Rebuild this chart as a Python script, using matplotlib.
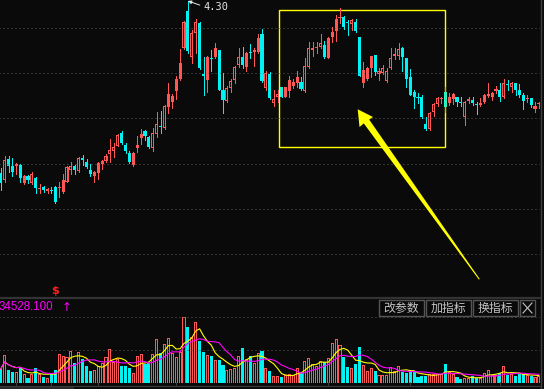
import numpy as np
import pandas as pd
import matplotlib
matplotlib.use('Agg')
import matplotlib.pyplot as plt
from matplotlib.patches import Rectangle, Polygon

# daily candles (price)
open_ = [2.58, 2.51, 2.72, 2.65, 2.65, 2.66, 2.48, 2.55, 2.48, 2.53,
         2.42, 2.44, 2.40, 2.41, 2.44, 2.43, 2.39, 2.49, 2.61, 2.65,
         2.60, 2.73, 2.69, 2.61, 2.55, 2.58, 2.67, 2.70, 2.77, 2.80,
         2.85, 2.98, 2.86, 2.78, 2.66, 2.83, 2.93, 3.00, 2.94, 2.83,
         2.97, 3.05, 3.03, 3.24, 3.29, 3.40, 3.52, 3.83, 4.20, 3.74,
         3.98, 4.08, 3.57, 3.51, 3.73, 3.74, 3.81, 3.41, 3.30, 3.43,
         3.51, 3.66, 3.74, 3.64, 3.79, 3.79, 3.79, 3.97, 3.43, 3.57,
         3.28, 3.34, 3.44, 3.34, 3.40, 3.45, 3.48, 3.49, 3.40, 3.64,
         3.81, 3.83, 3.84, 3.86, 3.73, 3.94, 4.00, 4.13, 4.14, 4.09,
         4.07, 4.09, 3.94, 3.48, 3.52, 3.63, 3.76, 3.57, 3.58, 3.50,
         3.63, 3.75, 3.75, 3.83, 3.73, 3.54, 3.39, 3.34, 3.34, 3.07,
         3.02, 3.19, 3.27, 3.32, 3.39, 3.28, 3.32, 3.34, 3.29, 3.14,
         3.30, 3.31, 3.27, 3.26, 3.29, 3.35, 3.34, 3.40, 3.41, 3.34,
         3.47, 3.44, 3.48, 3.41, 3.36, 3.32, 3.33, 3.22, 3.27]
high = [2.63, 2.75, 2.75, 2.73, 2.68, 2.67, 2.56, 2.56, 2.59, 2.54,
        2.47, 2.45, 2.43, 2.44, 2.45, 2.49, 2.57, 2.65, 2.69, 2.66,
        2.74, 2.76, 2.72, 2.67, 2.60, 2.69, 2.71, 2.77, 2.92, 2.88,
        2.97, 3.00, 2.88, 2.80, 2.79, 2.95, 3.02, 3.01, 2.95, 3.03,
        3.19, 3.20, 3.26, 3.48, 3.37, 3.55, 3.82, 4.10, 4.30, 4.01,
        4.12, 4.09, 3.74, 3.75, 3.81, 3.88, 3.81, 3.58, 3.45, 3.52,
        3.65, 3.83, 3.84, 3.79, 3.87, 3.83, 3.97, 4.02, 3.60, 3.59,
        3.41, 3.41, 3.44, 3.44, 3.55, 3.52, 3.60, 3.54, 3.73, 3.89,
        3.89, 3.89, 3.97, 3.90, 3.94, 4.04, 4.16, 4.23, 4.15, 4.11,
        4.12, 4.12, 3.94, 3.69, 3.64, 3.75, 3.76, 3.63, 3.66, 3.63,
        3.83, 3.83, 3.88, 3.84, 3.73, 3.62, 3.41, 3.38, 3.36, 3.14,
        3.19, 3.28, 3.34, 3.34, 3.44, 3.38, 3.38, 3.34, 3.34, 3.30,
        3.34, 3.34, 3.29, 3.33, 3.37, 3.48, 3.39, 3.45, 3.48, 3.52,
        3.51, 3.49, 3.48, 3.47, 3.38, 3.36, 3.33, 3.29, 3.29]
low = [2.41, 2.49, 2.59, 2.55, 2.57, 2.49, 2.47, 2.48, 2.47, 2.38,
       2.38, 2.39, 2.38, 2.38, 2.28, 2.34, 2.38, 2.49, 2.57, 2.57,
       2.59, 2.66, 2.63, 2.55, 2.49, 2.52, 2.62, 2.69, 2.69, 2.74,
       2.85, 2.87, 2.78, 2.68, 2.65, 2.79, 2.87, 2.91, 2.83, 2.80,
       2.94, 2.98, 3.02, 3.18, 3.23, 3.32, 3.51, 3.82, 3.78, 3.68,
       3.78, 3.62, 3.36, 3.39, 3.60, 3.73, 3.41, 3.18, 3.29, 3.39,
       3.48, 3.64, 3.63, 3.60, 3.73, 3.65, 3.78, 3.49, 3.41, 3.32,
       3.25, 3.29, 3.34, 3.34, 3.34, 3.43, 3.44, 3.41, 3.39, 3.63,
       3.75, 3.78, 3.83, 3.73, 3.73, 3.89, 3.90, 4.08, 4.02, 3.96,
       4.01, 3.99, 3.55, 3.44, 3.51, 3.54, 3.56, 3.51, 3.57, 3.49,
       3.62, 3.72, 3.72, 3.60, 3.44, 3.36, 3.23, 3.28, 3.13, 3.01,
       3.01, 3.15, 3.25, 3.28, 3.19, 3.26, 3.27, 3.25, 3.25, 3.06,
       3.28, 3.26, 3.17, 3.25, 3.28, 3.34, 3.31, 3.38, 3.30, 3.33,
       3.41, 3.39, 3.36, 3.34, 3.22, 3.29, 3.24, 3.19, 3.23]
close = [2.48, 2.71, 2.65, 2.59, 2.67, 2.53, 2.55, 2.51, 2.57, 2.43,
         2.43, 2.41, 2.42, 2.40, 2.29, 2.44, 2.51, 2.64, 2.65, 2.61,
         2.73, 2.71, 2.64, 2.57, 2.59, 2.68, 2.70, 2.75, 2.81, 2.84,
         2.96, 2.88, 2.80, 2.69, 2.78, 2.86, 2.97, 2.95, 2.84, 2.98,
         3.07, 3.04, 3.25, 3.37, 3.35, 3.52, 3.68, 4.09, 3.80, 3.98,
         4.09, 3.63, 3.55, 3.74, 3.72, 3.83, 3.41, 3.31, 3.43, 3.50,
         3.64, 3.74, 3.66, 3.78, 3.78, 3.81, 3.93, 3.50, 3.58, 3.33,
         3.32, 3.37, 3.34, 3.44, 3.51, 3.49, 3.54, 3.42, 3.65, 3.83,
         3.83, 3.84, 3.88, 3.74, 3.93, 3.99, 4.12, 4.14, 4.04, 4.08,
         4.11, 4.00, 3.55, 3.61, 3.63, 3.75, 3.59, 3.60, 3.63, 3.60,
         3.73, 3.77, 3.82, 3.74, 3.52, 3.36, 3.34, 3.33, 3.14, 3.02,
         3.18, 3.27, 3.33, 3.33, 3.24, 3.34, 3.37, 3.29, 3.28, 3.29,
         3.32, 3.28, 3.26, 3.28, 3.36, 3.37, 3.38, 3.42, 3.34, 3.48,
         3.46, 3.48, 3.41, 3.36, 3.30, 3.33, 3.26, 3.25, 3.28]
# volume (thousand lots)
volume = [70, 140, 65, 55, 55, 80, 45, 25, 45, 75,
          45, 30, 25, 50, 65, 145, 135, 130, 160, 100,
          155, 120, 85, 60, 65, 85, 100, 130, 170, 105,
          120, 85, 85, 75, 50, 135, 145, 95, 100, 145,
          220, 150, 195, 225, 150, 130, 155, 330, 280, 230,
          305, 210, 155, 140, 135, 115, 115, 90, 65, 70,
          75, 135, 175, 120, 135, 100, 150, 160, 75, 60,
          35, 35, 30, 40, 45, 40, 75, 50, 110, 125,
          95, 85, 110, 105, 125, 200, 220, 190, 130, 80,
          75, 95, 180, 90, 60, 75, 60, 40, 40, 40,
          80, 60, 85, 55, 50, 60, 55, 30, 35, 35,
          45, 45, 45, 45, 95, 55, 45, 30, 20, 25,
          25, 35, 25, 25, 50, 65, 40, 40, 50, 85,
          40, 45, 35, 45, 45, 40, 35, 30, 35]

price_grid = [4.03, 3.58, 3.13, 2.67, 2.22, 1.77]
vol_grid = [165, 330]
month_ticks = [4, 13, 25, 45, 84, 105, 128]
vol_label = '34528.100'
buttons = ['改参数', '加指标', '换指标']
box_range = (71.4, 114.0, 2.84, 4.21)   # highlighted candles / price span

BG = '#0a0a0a'
UP = '#ff5656'
DOWN = '#00f2f2'
GRID = '#5c5c5c'
LINE = '#3a3a3a'
PX = 0.72          # one pixel in points
BODY_W = 0.78
HOLE_W = 0.26

W, H = 544, 389
fig = plt.figure(figsize=(W / 100, H / 100), dpi=100, facecolor=BG)
ax = fig.add_axes([0, 91 / H, 540 / W, 298 / H])
axv = fig.add_axes([0, 3 / H, 540 / W, 88 / H])

o, h, l, c = (np.array(a) for a in (open_, high, low, close))
x = np.arange(len(c))
up = c >= o
lo = np.minimum(o, c)
hi = np.maximum(o, c)
bh = np.maximum(hi - lo, 0.008)

for a in (ax, axv):
    a.set_facecolor(BG)
    a.set_xlim(-0.18, 138.28)
    for s in a.spines.values():
        s.set_visible(False)
    a.set_yticks([])

# price panel (1 px = 0.01)
ax.set_xticks([])
ax.set_ylim(1.33, 4.31)
ax.hlines(price_grid, -1, 140, colors=GRID, linestyles=(0, (1, 3)), lw=PX)
ax.vlines(x[up], l[up], h[up], color=UP, lw=PX, antialiased=False)
ax.vlines(x[~up], l[~up], h[~up], color=DOWN, lw=PX, antialiased=False)
ax.bar(x[up], bh[up], bottom=lo[up], width=BODY_W, color=UP, lw=0,
       antialiased=False)
hole = up & ((hi - lo) > 0.025)
ax.bar(x[hole], (hi - lo)[hole] - 0.02, bottom=lo[hole] + 0.01, width=HOLE_W,
       color=BG, lw=0, antialiased=False)
ax.bar(x[~up], bh[~up], bottom=lo[~up], width=BODY_W, color=DOWN, lw=0,
       antialiased=False)

peak = int(np.argmax(h))
ax.annotate(f'{h[peak]:.2f}', xy=(peak, h[peak]), xytext=(peak + 4.1, 4.245),
            color='#e6e6e6', fontsize=7.5, family='DejaVu Sans Mono',
            ha='left', va='center',
            arrowprops=dict(arrowstyle='-|>', color='#e6e6e6', lw=0.7,
                            mutation_scale=5, shrinkA=1, shrinkB=0,
                            relpos=(0, 0.5)))
ax.text(13.9, 1.40, '$', color='#ff1e1e', fontsize=8, fontweight='bold',
        ha='center', va='center')

x0, x1, y0, y1 = box_range
ax.add_patch(Rectangle((x0, y0), x1 - x0, y1 - y0, fill=False,
                       ec='#ffff00', lw=1))

# volume panel (1 px = 5)
axv.set_ylim(-15, 425)
axv.hlines(vol_grid, -1, 140, colors=GRID, linestyles=(0, (1, 3)), lw=PX)
v = np.array(volume)
axv.bar(x[up], v[up], width=BODY_W, color=UP, lw=0, antialiased=False)
vhole = up & (v > 10)
axv.bar(x[vhole], v[vhole] - 5, width=HOLE_W, color=BG, lw=0,
        antialiased=False)
axv.bar(x[~up], v[~up], width=BODY_W, color=DOWN, lw=0, antialiased=False)
vs = pd.Series(v)
axv.plot(x, vs.rolling(5, min_periods=1).mean(), color='#ffff00', lw=0.8)
axv.plot(x, vs.rolling(10, min_periods=1).mean(), color='#ff00ff', lw=0.8)
axv.spines['bottom'].set_visible(True)
axv.spines['bottom'].set_color(LINE)
axv.set_xticks(month_ticks)
axv.set_xticklabels([])
axv.tick_params(axis='x', direction='in', length=3, color=LINE)

# screen chrome drawn in pixel space
ov = fig.add_axes([0, 0, 1, 1])
ov.set_xlim(0, W)
ov.set_ylim(H, 0)
ov.axis('off')
ov.patch.set_alpha(0)

ov.plot([0, 540], [298, 298], color='#333333', lw=1.6)
ov.plot([540.5, 540.5], [0, H], color='#404040', lw=1)
ov.add_patch(Rectangle((0, 386.5), 74, 3, color='#2a2a2a', lw=0))

arrow = [(357.7, 109.3), (373, 117), (369.2, 119.6), (479.7, 279.0),
         (478.9, 279.6), (363.8, 123.4), (359.5, 127)]
ov.add_patch(Polygon(arrow, closed=True, color='#ffff00', lw=0))

ov.text(-1, 307.5, vol_label, color='#ff00ff', fontsize=8.3,
        family='Liberation Sans', ha='left', va='center')
ov.text(66.5, 307.5, '↑', color='#ff00ff', fontsize=8.5, ha='center',
        va='center')

bx = 379
for name in buttons:
    ov.add_patch(Rectangle((bx, 300), 45, 16, fill=False, ec='#555555', lw=1))
    ov.text(bx + 22.5, 308, name, color='#c4c4c4', fontsize=8.6,
            family=['Noto Sans CJK SC', 'DejaVu Sans'], ha='center', va='center')
    bx += 47
ov.add_patch(Rectangle((bx, 300), 15, 16, fill=False, ec='#555555', lw=1))
ov.plot([bx + 3, bx + 12], [303, 313], color='#c4c4c4', lw=0.8)
ov.plot([bx + 12, bx + 3], [303, 313], color='#c4c4c4', lw=0.8)

fig.savefig('out.png', dpi=100, facecolor=BG)
